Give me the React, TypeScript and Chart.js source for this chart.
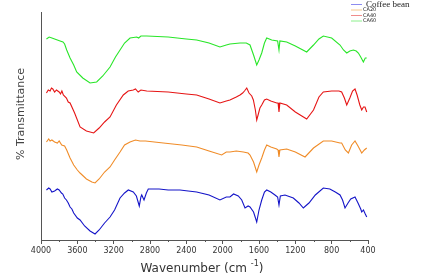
import React, { useEffect, useRef } from "react";
import { Chart, registerables } from "chart.js";

Chart.register(...registerables);

// [wavenumber (cm-1), transmittance (a.u., stacked offset)]
const coffeeBean: [number, number][] = [
  [3940, 50], [3915, 52], [3900, 51], [3880, 48], [3850, 49], [3820, 51], [3800, 50], [3775, 47], [3760, 46], [3740, 42],
  [3720, 40], [3700, 37], [3680, 33], [3660, 31], [3640, 27], [3600, 22], [3570, 20], [3520, 14], [3460, 9], [3405, 6],
  [3360, 10], [3300, 17], [3240, 23], [3190, 30], [3130, 42], [3080, 47], [3039, 50], [2984, 48], [2950, 44], [2918, 34],
  [2900, 43], [2891, 45], [2866, 40], [2840, 47], [2819, 51], [2700, 51], [2600, 50], [2470, 50], [2380, 49], [2286, 48],
  [2150, 45], [2030, 40], [1960, 43], [1920, 43], [1880, 46], [1828, 44], [1790, 40], [1754, 32], [1720, 34], [1699, 33],
  [1660, 28], [1625, 18], [1600, 30], [1570, 40], [1540, 48], [1515, 50], [1470, 48], [1424, 45], [1395, 43], [1380, 35],
  [1365, 44], [1314, 45], [1222, 42], [1160, 37], [1112, 32], [1050, 37], [980, 45], [892, 52], [820, 51], [760, 48],
  [708, 45], [680, 40], [653, 32], [620, 37], [590, 41], [543, 43], [510, 37], [480, 31], [469, 28], [450, 30],
  [430, 26], [414, 23],
];

const ca20: [number, number][] = [
  [3940, 98], [3915, 101], [3900, 99], [3880, 100], [3850, 98], [3820, 97], [3800, 99], [3772, 95], [3740, 94], [3717, 90],
  [3680, 82], [3640, 75], [3600, 70], [3570, 67], [3500, 61], [3440, 58], [3405, 57], [3360, 61], [3300, 68], [3240, 73],
  [3190, 80], [3130, 88], [3080, 95], [3020, 98], [2960, 100], [2910, 99], [2850, 99], [2653, 97], [2450, 95], [2286, 93],
  [2150, 89], [2011, 85], [1960, 88], [1920, 88], [1850, 89], [1772, 88], [1720, 87], [1699, 85], [1660, 78], [1625, 68],
  [1600, 75], [1570, 82], [1540, 90], [1515, 95], [1470, 93], [1405, 91], [1390, 90], [1380, 83], [1370, 90], [1295, 91],
  [1200, 88], [1093, 83], [1000, 92], [892, 99], [800, 99], [708, 97], [690, 97], [650, 90], [616, 87], [580, 95],
  [543, 99], [510, 94], [469, 87], [440, 90], [414, 92],
];

const ca40: [number, number][] = [
  [3940, 147], [3920, 150], [3900, 149], [3885, 152], [3870, 151], [3850, 148], [3830, 150], [3800, 148], [3785, 146], [3770, 149],
  [3754, 145], [3720, 142], [3700, 138], [3680, 137], [3630, 127], [3570, 113], [3500, 109], [3420, 107], [3360, 112], [3300, 118],
  [3240, 123], [3170, 135], [3094, 145], [3040, 149], [2984, 150], [2960, 151], [2930, 148], [2900, 150], [2836, 149], [2600, 148],
  [2400, 146], [2286, 145], [2150, 141], [2030, 137], [1960, 139], [1920, 140], [1850, 143], [1809, 145], [1780, 147], [1760, 149],
  [1735, 152], [1710, 147], [1680, 144], [1662, 140], [1640, 130], [1625, 120], [1610, 125], [1590, 132], [1570, 135], [1540, 140],
  [1515, 141], [1470, 139], [1405, 137], [1390, 137], [1380, 128], [1370, 137], [1295, 135], [1200, 128], [1075, 121], [1000, 130],
  [940, 143], [892, 148], [800, 149], [720, 149], [690, 148], [660, 142], [634, 135], [600, 142], [570, 149], [543, 151],
  [520, 145], [490, 135], [469, 130], [450, 133], [433, 133], [414, 128],
];

const ca60: [number, number][] = [
  [3940, 201], [3910, 203], [3880, 202], [3850, 201], [3820, 200], [3790, 199], [3758, 198], [3740, 196], [3717, 190], [3680, 182],
  [3640, 175], [3607, 168], [3540, 162], [3460, 157], [3387, 158], [3320, 164], [3240, 173], [3180, 183], [3130, 190], [3080, 197],
  [3020, 202], [2946, 203], [2925, 202], [2900, 204], [2836, 204], [2600, 203], [2400, 201], [2286, 200], [2150, 197], [2030, 193],
  [1960, 195], [1920, 196], [1809, 197], [1740, 197], [1699, 195], [1660, 185], [1625, 175], [1600, 180], [1570, 187], [1540, 197],
  [1515, 202], [1460, 200], [1395, 199], [1380, 190], [1370, 199], [1295, 198], [1200, 194], [1075, 188], [1000, 195], [940, 201],
  [892, 204], [800, 202], [708, 195], [670, 190], [634, 187], [600, 189], [561, 190], [530, 189], [506, 187], [480, 183],
  [451, 178], [430, 182], [414, 182],
];

const seriesNames = ["Coffee bean", "CA20", "CA40", "CA60"];
const seriesColors = ["#1414c8", "#f08c28", "#e61414", "#28e628"];
const legendColors = ["#8c8cf0", "#f5c88c", "#f08c8c", "#8cf08c"];
const xMin = 400;
const xMax = 4000;
const xStep = 400;
const yMin = 0;
const yMax = 228;

const AXIS = "#555555";

const decorPlugin = {
  id: "decor",
  afterDraw(chart: any) {
    const { ctx, chartArea, scales } = chart;
    const xs = scales.x;
    ctx.save();
    // minor ticks
    ctx.strokeStyle = AXIS;
    ctx.lineWidth = 1;
    for (let v = xMin + xStep / 2; v < xMax; v += xStep) {
      const px = Math.round(xs.getPixelForValue(v)) + 0.5;
      ctx.beginPath();
      ctx.moveTo(px, chartArea.bottom);
      ctx.lineTo(px, chartArea.bottom + 2);
      ctx.stroke();
    }
    // y title
    ctx.fillStyle = "#444";
    ctx.font = "11px 'DejaVu Sans'";
    ctx.textAlign = "center";
    ctx.textBaseline = "middle";
    ctx.translate(21, 114);
    ctx.rotate(-Math.PI / 2);
    ctx.fillText("% Transmittance", 0, 0);
    ctx.restore();

    // x title
    ctx.save();
    ctx.fillStyle = "#333";
    ctx.textBaseline = "alphabetic";
    ctx.textAlign = "left";
    const main = "Wavenumber (cm ";
    const sup = "-1";
    const close = ")";
    ctx.font = "12px 'DejaVu Sans'";
    const wMain = ctx.measureText(main).width;
    const wClose = ctx.measureText(close).width;
    ctx.font = "8px 'DejaVu Sans'";
    const wSup = ctx.measureText(sup).width;
    const total = wMain + wSup + wClose;
    const x0 = 202 - total / 2;
    const base = 272;
    ctx.font = "12px 'DejaVu Sans'";
    ctx.fillText(main, x0, base);
    ctx.font = "8px 'DejaVu Sans'";
    ctx.fillText(sup, x0 + wMain, base - 6);
    ctx.font = "12px 'DejaVu Sans'";
    ctx.fillText(close, x0 + wMain + wSup, base);

    // legend
    const rows = [4, 9.5, 15, 20.5];
    for (let i = 0; i < seriesNames.length; i++) {
      const y = rows[i];
      ctx.strokeStyle = legendColors[i];
      ctx.lineWidth = 1;
      ctx.beginPath();
      ctx.moveTo(351, y + 0.5);
      ctx.lineTo(362, y + 0.5);
      ctx.stroke();
      ctx.fillStyle = "#222";
      ctx.textBaseline = "middle";
      if (i === 0) {
        ctx.font = "9px 'Liberation Serif'";
        ctx.fillText(seriesNames[i], 366, y + 0.5);
      } else {
        ctx.font = "5px 'DejaVu Sans'";
        ctx.fillText(seriesNames[i], 363, y + 0.5);
      }
    }
    ctx.restore();
  },
};

export default function App() {
  const ref = useRef<HTMLCanvasElement | null>(null);
  useEffect(() => {
    document.body.style.margin = "0";
    const all = [coffeeBean, ca20, ca40, ca60];
    const chart = new Chart(ref.current as HTMLCanvasElement, {
      type: "line",
      data: {
        datasets: all.map((d, i) => ({
          label: seriesNames[i],
          data: d.map(([x, y]) => ({ x, y })),
          borderColor: seriesColors[i],
          backgroundColor: seriesColors[i],
          borderWidth: 1.1,
          pointRadius: 0,
          tension: 0,
        })),
      },
      options: {
        animation: false,
        responsive: false,
        devicePixelRatio: 1,
        layout: { padding: { top: 12, right: 56, left: 0, bottom: 0 } },
        plugins: { legend: { display: false }, tooltip: { enabled: false } },
        scales: {
          x: {
            type: "linear",
            reverse: true,
            min: xMin,
            max: xMax,
            afterFit: (s: any) => {
              s.height = 37;
            },
            ticks: {
              stepSize: xStep,
              padding: 2,
              color: "#333",
              font: { family: "'DejaVu Sans'", size: 8 },
              maxRotation: 0,
              autoSkip: false,
              callback: (v: any) => String(v),
            },
            grid: { display: true, drawOnChartArea: false, drawTicks: true, tickLength: 4, color: AXIS },
            border: { display: true, color: AXIS, width: 1 },
          },
          y: {
            min: yMin,
            max: yMax,
            afterFit: (s: any) => {
              s.width = 41;
            },
            ticks: { display: false },
            grid: { display: false },
            border: { display: true, color: AXIS, width: 1 },
          },
        },
      },
      plugins: [decorPlugin],
    } as any);
    return () => chart.destroy();
  }, []);
  return (
    <div style={{ position: "absolute", left: 0, top: 0, width: 424, height: 277, background: "#fff" }}>
      <canvas ref={ref} width={424} height={277} />
    </div>
  );
}
